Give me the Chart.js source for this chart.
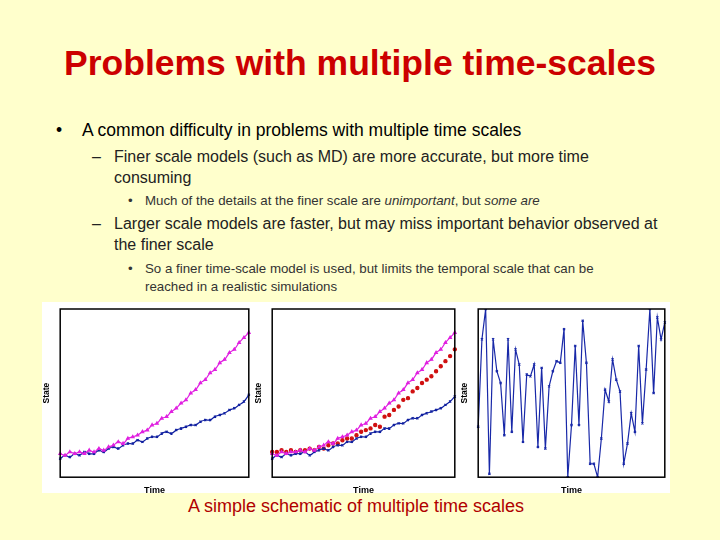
<!DOCTYPE html><html><head><meta charset="utf-8">
<script src="https://cdn.jsdelivr.net/npm/chart.js@4"></script>
<style>
body{margin:0;width:720px;height:540px;background:#FFFFCC;font-family:"Liberation Sans",Arial,sans-serif;position:relative;overflow:hidden}
.a{position:absolute;margin:0}
#t{left:0;width:720px;top:43px;text-align:center;color:#CC0000;font-size:35.5px;font-weight:bold}
.l1{font-size:17.5px;color:#000}
.l2{font-size:16px;color:#222;line-height:21px}
.l3{font-size:13.3px;color:#333;line-height:18px}
.c{position:absolute;background:#fff}
#cap{left:0;width:712px;top:496px;text-align:center;color:#B00000;font-size:18px}
</style></head><body>
<div class="a" id="t">Problems with multiple time-scales</div>
<div class="a l1" style="left:56px;top:120px">•</div>
<div class="a l1" style="left:82px;top:120px">A common difficulty in problems with multiple time scales</div>
<div class="a l2" style="left:92px;top:146px">–</div>
<div class="a l2" style="left:114px;top:146px;width:485px">Finer scale models (such as MD) are more accurate, but more time consuming</div>
<div class="a l3" style="left:128px;top:192px">•</div>
<div class="a l3" style="left:145px;top:192px">Much of the details at the finer scale are <i>unimportant</i>, but <i>some are</i></div>
<div class="a l2" style="left:92px;top:213px">–</div>
<div class="a l2" style="left:114px;top:213px;width:560px">Larger scale models are faster, but may miss important behavior observed at the finer scale</div>
<div class="a l3" style="left:128px;top:260px">•</div>
<div class="a l3" style="left:145px;top:260px;width:480px">So a finer time-scale model is used, but limits the temporal scale that can be reached in a realistic simulations</div>
<div class="c" style="left:42px;top:302px;width:212px;height:191px"><canvas id="c1"></canvas></div>
<div class="c" style="left:254px;top:302px;width:206px;height:191px"><canvas id="c2"></canvas></div>
<div class="c" style="left:460px;top:302px;width:210px;height:191px"><canvas id="c3"></canvas></div>
<div class="a" id="cap">A simple schematic of multiple time scales</div>
<script>
const fineA=[14,13,15,14,15,14,16,15,17,16,18,19,21,20,23,24,25,27,28,31,32,35,36,39,41,44,46,50,52,56,58,62,64,68,70,74,76,80,83,86];
const coarseA=[11,13,12,14,13,15,14,14,16,15,17,18,17,19,20,20,22,21,23,24,24,26,27,26,28,29,30,31,31,33,34,34,36,37,38,40,41,43,45,49];
const fineB=[14,13,15,14,15,15,16,15,17,16,18,19,21,20,23,24,25,27,28,31,32,35,36,39,41,44,46,50,52,56,58,62,64,68,70,74,76,80,83,86];
const coarseB=[11,13,12,14,13,14,14,15,13,15,16,17,16,18,19,19,21,21,23,24,24,26,27,27,29,29,31,32,32,34,35,35,37,38,39,40,41,43,45,48];
const mixedB=[15,15,16,15,16,15,16,16,17,16,18,17,19,20,20,22,23,23,25,27,28,29,31,30,36,37,40,42,46,47,51,53,56,58,60,63,66,69,72,76];
const noisy=[30,82,100,2,82,63,56,25,82,27,76,67,21,61,60,67,18,65,17,54,63,69,68,88,0,31,78,31,93,68,8,8,0,23,52,45,70,58,51,8,20,38,27,78,32,64,100,50,95,82,92];
const box={id:'box',afterDraw(c){const a=c.chartArea,x=c.ctx;x.save();x.strokeStyle='#000';x.lineWidth=1.5;x.strokeRect(a.left,a.top,a.right-a.left,a.bottom-a.top);x.restore();}};
function mk(id,sets,n,pl){
 new Chart(document.getElementById(id),{type:'line',data:{labels:Array.from({length:n},(_,i)=>i),datasets:sets},
 options:{responsive:true,maintainAspectRatio:false,animation:false,plugins:{legend:{display:false},tooltip:{enabled:false}},
 layout:{padding:{top:7,right:pl.r,bottom:-3,left:0}},
 scales:{x:{ticks:{display:false},grid:{display:false},border:{display:false},title:{display:true,text:'Time',font:{size:9,weight:'bold'},color:'#000',padding:{top:0,bottom:0}}},
 y:{min:0,max:100,ticks:{display:false},grid:{display:false},border:{display:false},title:{display:true,text:'State',font:{size:8.5,weight:'bold'},color:'#000',padding:{top:0,bottom:0}}}}},plugins:[box]});
}
const ds=(d,c,st,t)=>({data:d,borderColor:c,backgroundColor:c,borderWidth:1.2,pointRadius:1.5,pointStyle:st,tension:t});
mk('c1',[ds(fineA,'#E020E0','triangle',0.4),ds(coarseA,'#1020A0','crossRot',0.4)],40,{r:4});
mk('c2',[ds(fineB,'#E020E0','triangle',0.4),ds(coarseB,'#1020A0','crossRot',0.4),{...ds(mixedB,'#D01010','circle',0),showLine:false,pointRadius:1.6}],40,{r:5});
mk('c3',[ds(noisy,'#1828A8','crossRot',0)],noisy.length,{r:3});
</script></body></html>
